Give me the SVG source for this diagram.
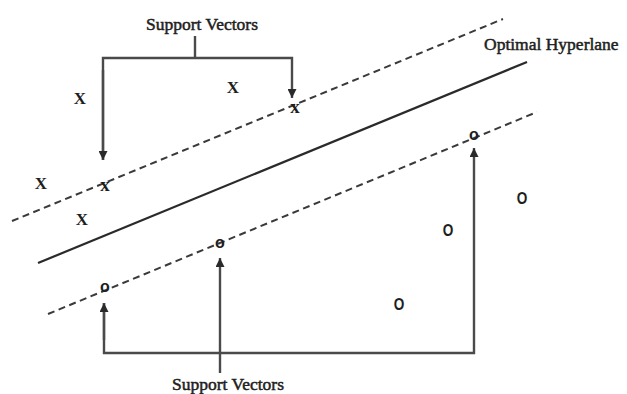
<svg xmlns="http://www.w3.org/2000/svg" width="627" height="394" viewBox="0 0 627 394">
  <style>
    .margin { stroke: #3a3a3a; stroke-width: 2; stroke-dasharray: 7 4.5; fill: none; }
    .plane { stroke: #2a2a2a; stroke-width: 2.2; fill: none; }
    .bracket { stroke: #4a4a4a; stroke-width: 2.4; fill: none; }
    .label { font-family: "Liberation Serif", "Times New Roman", serif; font-size: 17.5px; fill: #1e1e1e; stroke: #1e1e1e; stroke-width: 0.5; }
    .cross { font-family: "Liberation Serif", "Times New Roman", serif; font-weight: bold; font-size: 17px; fill: #1e1e1e; text-anchor: middle; }
    .ring { font-family: "Liberation Sans", Arial, sans-serif; font-weight: bold; font-size: 16px; fill: #1e1e1e; text-anchor: middle; }
    .svx { font-family: "Liberation Serif", "Times New Roman", serif; font-weight: bold; font-size: 19px; fill: #1e1e1e; text-anchor: middle; }
    .svo { font-family: "Liberation Sans", Arial, sans-serif; font-weight: bold; font-size: 16px; fill: #1e1e1e; text-anchor: middle; }
  </style>
  <defs>
    <marker id="tip" viewBox="0 0 10 10" refX="10" refY="5" markerWidth="9" markerHeight="9" markerUnits="userSpaceOnUse" orient="auto">
      <path d="M0,0 L10,5 L0,10 Z" fill="#2a2a2a"/>
    </marker>
  </defs>
  <rect width="627" height="394" fill="#ffffff"/>

  <!-- separating hyperplane and its two margins -->
  <g id="lines">
    <line class="margin" x1="12" y1="221" x2="503" y2="19"/>
    <line class="plane" x1="38" y1="263" x2="527" y2="62"/>
    <line class="margin" x1="48" y1="314" x2="537" y2="112"/>
  </g>

  <!-- class X samples -->
  <g id="class-x">
    <text class="cross" x="80" y="104">X</text>
    <text class="cross" x="233" y="93">X</text>
    <text class="cross" x="41" y="189">X</text>
    <text class="cross" x="82" y="225">X</text>
    <text class="svx" x="295" y="113">x</text>
    <text class="svx" x="105" y="191">x</text>
  </g>

  <!-- class O samples -->
  <g id="class-o">
    <text class="ring" x="522" y="204" transform="translate(522 0) scale(0.85 1) translate(-522 0)">O</text>
    <text class="ring" x="448" y="236" transform="translate(448 0) scale(0.85 1) translate(-448 0)">O</text>
    <text class="ring" x="399" y="310" transform="translate(399 0) scale(0.85 1) translate(-399 0)">O</text>
    <text class="svo" x="105" y="292">o</text>
    <text class="svo" x="220" y="248">o</text>
    <text class="svo" x="474" y="140">o</text>
  </g>

  <!-- labels -->
  <g id="label-top"><text class="label" x="202" y="30" text-anchor="middle">Support Vectors</text></g>
  <g id="label-plane"><text class="label" x="484" y="50">Optimal Hyperlane</text></g>
  <g id="label-bottom"><text class="label" x="228" y="390" text-anchor="middle">Support Vectors</text></g>

  <!-- pointer brackets -->
  <g id="connectors">
    <line class="bracket" x1="195" y1="36" x2="195" y2="58"/>
    <polyline class="bracket" points="103,160 103,58 292,58 292,98" marker-end="url(#tip)"/>
    <line class="bracket" x1="103" y1="70" x2="103" y2="160" marker-end="url(#tip)"/>
    <polyline class="bracket" points="104,303 104,353 474,353 474,148" marker-end="url(#tip)"/>
    <line class="bracket" x1="104" y1="340" x2="104" y2="303" marker-end="url(#tip)"/>
    <line class="bracket" x1="220" y1="373" x2="220" y2="258" marker-end="url(#tip)"/>
  </g>
</svg>
